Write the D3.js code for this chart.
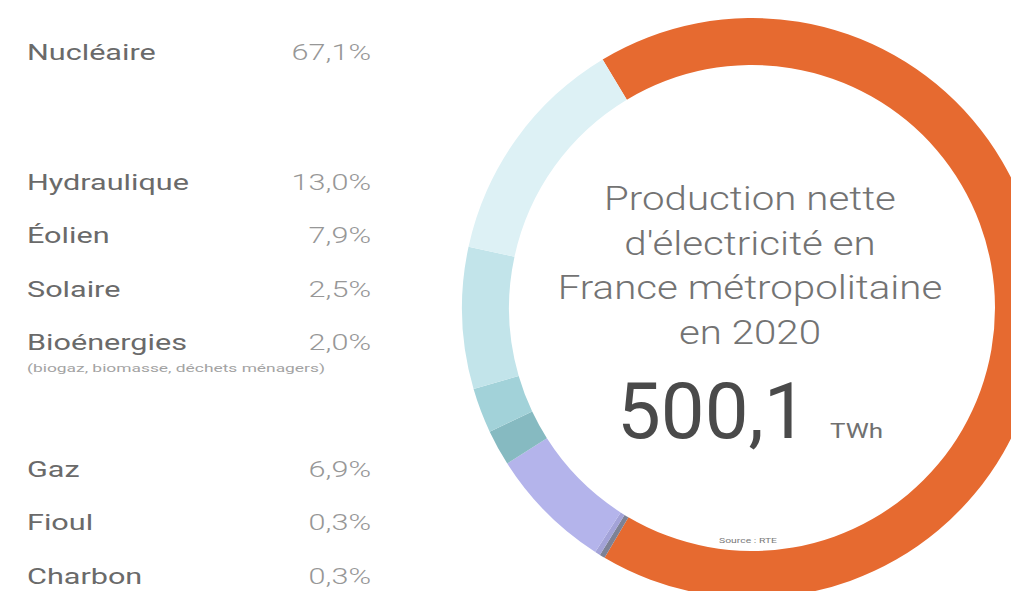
<!DOCTYPE html>
<html>
<head>
<meta charset="utf-8">
<script src="https://cdn.jsdelivr.net/npm/d3@7"></script>
<style>
  html, body { margin: 0; padding: 0; background: #fff; }
  svg { display: block; font-family: Roboto, "Noto Sans", sans-serif; }
</style>
</head>
<body>
<svg id="chart" width="1011" height="591"></svg>
<script>
// Electricity sources, in drawing order around the ring (clockwise from nuclear)
const sources = ["Nucléaire", "Charbon", "Fioul", "Gaz", "Bioénergies", "Solaire", "Éolien", "Hydraulique"];
const shares  = [67.1, 0.3, 0.3, 6.9, 2.0, 2.5, 7.9, 13.0];
const colors  = ["#E66A30", "#7D8296", "#A3A3D8", "#B4B4EB", "#86BAC1", "#A2D2D9", "#C2E4EA", "#DDF1F5"];

// Legend order on the left, with its grouping
const legendLabels = ["Nucléaire", "Hydraulique", "Éolien", "Solaire", "Bioénergies", "Gaz", "Fioul", "Charbon"];
const legendGroups = [0, 1, 1, 1, 1, 2, 2, 2];
const bioNote = "(biogaz, biomasse, déchets ménagers)";

const titleLines = ["Production nette", "d'électricité en", "France métropolitaine", "en 2020"];
const totalValue = "500,1";
const totalUnit = "TWh";
const sourceNote = "Source : RTE";

const fmt = v => d3.format(".1f")(v).replace(".", ",") + "%";
const shareOf = name => shares[sources.indexOf(name)];

const svg = d3.select("#chart");

// ---- Donut ----
const cx = 752, cy = 308, rOuter = 290, rInner = 243;
const start = -31 * Math.PI / 180;
const pie = d3.pie().sort(null).value(d => d.v)
  .startAngle(start).endAngle(start + 2 * Math.PI);
const arc = d3.arc().innerRadius(rInner).outerRadius(rOuter);
const color = d3.scaleOrdinal().domain(sources).range(colors);

const ring = svg.append("g").attr("transform", `translate(${cx},${cy})`);
ring.selectAll("path")
  .data(pie(sources.map((s, i) => ({ s, v: shares[i] }))))
  .join("path")
  .attr("d", arc)
  .attr("fill", d => color(d.data.s));

// ---- Legend ----
const legX = 27, legRight = 371, rowStep = 53.3, firstBase = 60;
const groupOffset = [0, 76.7, 150.5];
const rowY = i => firstBase + i * rowStep + groupOffset[legendGroups[i]];
const sx = 1.36;

const leg = svg.append("g");
legendLabels.forEach((name, i) => {
  const y = rowY(i);
  leg.append("text")
    .attr("transform", `translate(${legX},${y}) scale(${sx},1)`)
    .attr("font-size", 22.5).attr("font-weight", 400).attr("fill", "#6a6a6a")
    .text(name);
  leg.append("text")
    .attr("transform", `translate(${legRight},${y}) scale(${sx},1)`)
    .attr("text-anchor", "end")
    .attr("font-size", 22.5).attr("font-weight", 300).attr("fill", "#979797")
    .text(fmt(shareOf(name)));
  if (name === "Bioénergies") {
    leg.append("text")
      .attr("x", legX).attr("y", y + 22)
      .attr("font-size", 11).attr("fill", "#a3a3a3")
      .attr("textLength", 298).attr("lengthAdjust", "spacingAndGlyphs")
      .text(bioNote);
  }
});

// ---- Centre title and total ----
const title = svg.append("g");
titleLines.forEach((line, i) => {
  title.append("text")
    .attr("transform", `translate(${cx - 2},${210 + i * 44.5}) scale(1.22,1)`)
    .attr("text-anchor", "middle")
    .attr("font-size", 33).attr("font-weight", 300).attr("fill", "#737373")
    .text(line);
});

title.append("text")
  .attr("transform", `translate(617,438) scale(1,1)`)
  .attr("font-size", 78).attr("font-weight", 400).attr("fill", "#4a4a4a")
  .text(totalValue);
title.append("text")
  .attr("transform", `translate(830,438) scale(1.3,1)`)
  .attr("font-size", 20).attr("font-weight", 400).attr("fill", "#707070")
  .text(totalUnit);

title.append("text")
  .attr("transform", `translate(748,543) scale(1.3,1)`)
  .attr("text-anchor", "middle")
  .attr("font-size", 8).attr("fill", "#7a7a7a")
  .text(sourceNote);
</script>
</body>
</html>
